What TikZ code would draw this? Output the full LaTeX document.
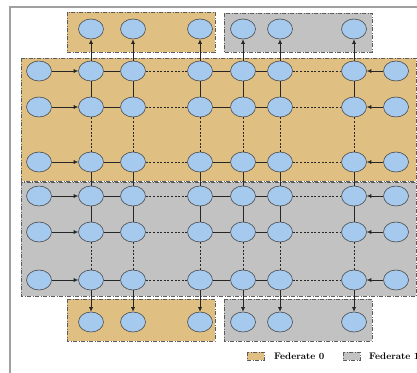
\documentclass[tikz,border=0pt]{standalone}
\usetikzlibrary{arrows.meta,shapes.geometric}
\definecolor{fedorange}{HTML}{E0C082}
\definecolor{fedgray}{HTML}{C2C2C2}
\definecolor{cellblue}{HTML}{A6C9EE}
\definecolor{cellline}{HTML}{4A4A4A}
\definecolor{framegray}{HTML}{A0A0A0}
\tikzset{
  cell/.style={ellipse, draw=cellline, line width=0.6pt, fill=cellblue,
    minimum width=25pt, minimum height=20pt, inner sep=0pt},
  fedbox/.style={draw=cellline!90, line width=0.6pt,
    dash pattern=on 4pt off 1.5pt on 1pt off 1.5pt},
  link/.style={draw=black!85, line width=0.65pt},
  weak/.style={link, dash pattern=on 2pt off 1.6pt},
  feed/.style={link, -{Latex[length=4.5pt,width=4pt]}},
  legendtext/.style={font=\fontsize{9.5}{11}\selectfont\bfseries, anchor=west, inner sep=0pt}
}
\begin{document}
\begin{tikzpicture}[x=1pt,y=-1pt]
\useasboundingbox (0,0) rectangle (417,372);
% outer frame, partly outside the page
\draw[framegray, line width=1.4pt] (10,380) -- (10,7) -- (425,7);
% federate regions
\fill[fedorange] (67,12) rectangle (215,52);
\draw[fedbox] (67,12) rectangle (215,52);
\fill[fedgray] (224,13) rectangle (372,52);
\draw[fedbox] (224,13) rectangle (372,52);
\fill[fedorange] (21,58) rectangle (416,181);
\draw[fedbox] (21,58) rectangle (416,181);
\fill[fedgray] (21,182) rectangle (416,296);
\draw[fedbox] (21,182) rectangle (416,296);
\fill[fedorange] (67,299) rectangle (215,341);
\draw[fedbox] (67,299) rectangle (215,341);
\fill[fedgray] (224,299) rectangle (372,341);
\draw[fedbox] (224,299) rectangle (372,341);
% grid cells: rows 0..5, columns 0..7
\foreach \r/\y in {0/71,1/107,2/162,3/196,4/232,5/280}{
  \foreach \c/\x in {0/39,1/91,2/133,3/200,4/243,5/280,6/354,7/396}{
    \node[cell] (n\r\c) at (\x,\y) {};
  }
}
% halo cells above and below
\foreach \c/\x in {1/91,2/133,3/200,4/243,5/280,6/354}{
  \node[cell] (t\c) at (\x,29) {};
  \node[cell] (b\c) at (\x,322) {};
}
% horizontal links
\foreach \r in {0,...,5}{
  \draw[feed] (n\r0) -- (n\r1);
  \draw[link] (n\r1) -- (n\r2);
  \draw[weak] (n\r2) -- (n\r3);
  \draw[link] (n\r3) -- (n\r4);
  \draw[link] (n\r4) -- (n\r5);
  \draw[weak] (n\r5) -- (n\r6);
  \draw[feed] (n\r7) -- (n\r6);
}
% vertical links
\foreach \c in {1,...,6}{
  \draw[link] (n0\c) -- (n1\c);
  \draw[weak] (n1\c) -- (n2\c);
  \draw[link] (n2\c) -- (n3\c);
  \draw[link] (n3\c) -- (n4\c);
  \draw[weak] (n4\c) -- (n5\c);
  \draw[feed] (n0\c) -- (t\c);
  \draw[feed] (n5\c) -- (b\c);
}
% legend
\fill[fedorange] (247,352) rectangle (264,360);
\draw[fedbox] (247,352) rectangle (264,360);
\node[legendtext] (l0) at (274,356) {Federate 0};
\fill[fedgray] (343,352) rectangle (360,360);
\draw[fedbox] (343,352) rectangle (360,360);
\node[legendtext] (l1) at (369,356) {Federate 1};
\end{tikzpicture}
\end{document}
